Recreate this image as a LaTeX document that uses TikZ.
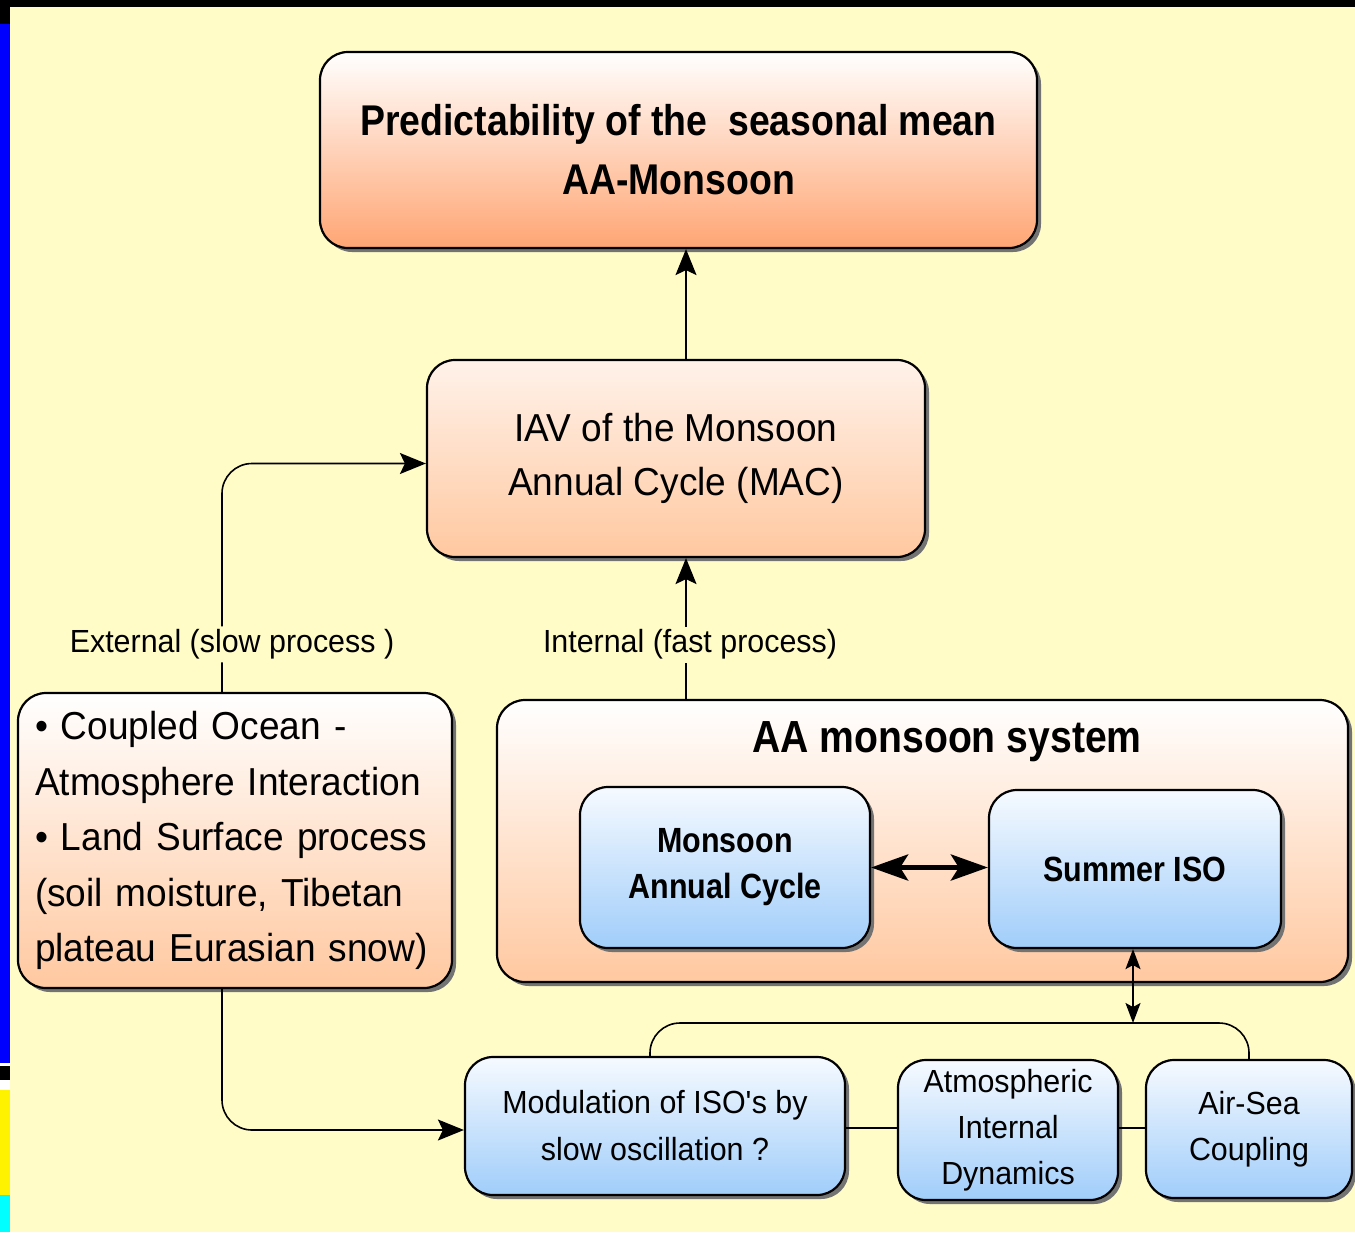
\documentclass[tikz,border=0pt]{standalone}
\usepackage{fontspec}
\setmainfont{Liberation Sans}[FakeStretch=0.95]
\newfontfamily\bfam{Liberation Sans}[FakeStretch=0.87]
\usetikzlibrary{shadows,arrows.meta}
\definecolor{bg}{RGB}{255,252,200}
\definecolor{peachD}{RGB}{255,165,115}
\definecolor{peachM}{RGB}{255,200,160}
\definecolor{peachT}{RGB}{255,242,234}
\definecolor{blueD}{RGB}{160,205,250}
\definecolor{blueL}{RGB}{246,250,255}
\definecolor{shd}{RGB}{115,115,115}
\definecolor{stripblue}{RGB}{0,0,255}
\definecolor{stripcyan}{RGB}{0,255,255}
\newcommand\myfs[2]{\fontsize{#1}{#2}\selectfont}
\begin{document}
\begin{tikzpicture}[x=1pt,y=-1pt,
  box/.style={draw=black, line width=2.2pt, rounded corners=28pt, align=center, inner sep=0pt,
    drop shadow={shadow xshift=4pt, shadow yshift=-4pt, fill=shd, opacity=1}},
  peach/.style={box, top color=#1, bottom color=peachM},
  orangebox/.style={box, top color=white, bottom color=peachD},
  bluebox/.style={box, top color=blueL, bottom color=blueD},
  conn/.style={line width=1.6pt, draw=black},
  arr/.style={conn, -{Stealth[length=26pt,width=21pt,inset=5pt]}},
  smallarr/.style={conn, {Stealth[length=20pt,width=15pt,inset=4pt]}-{Stealth[length=20pt,width=15pt,inset=4pt]}},
  bigarr/.style={line width=5pt, draw=black, {Stealth[length=37pt,width=26pt,inset=8pt]}-{Stealth[length=37pt,width=26pt,inset=8pt]}},
  lbl/.style={fill=bg, inner sep=3pt, font=\myfs{32}{40}},
]
\useasboundingbox (0,0) rectangle (1355,1232);
% background and frame bits
\fill[bg] (0,0) rectangle (1355,1232);
\fill[black] (0,0) rectangle (1355,7);
\fill[black] (0,0) rectangle (10,24);
\fill[stripblue] (0,24) rectangle (10,1063);
\fill[white] (0,1063) rectangle (10,1090);
\fill[black] (0,1066) rectangle (10,1080);
\fill[yellow] (0,1090) rectangle (10,1195);
\fill[stripcyan] (0,1195) rectangle (10,1232);

% boxes
\node[orangebox, minimum width=717pt, minimum height=196pt, font=\bfam\bfseries\myfs{43}{59}] (top) at (678.5,150)
  {Predictability of the~ seasonal mean\\AA-Monsoon};
\node[peach=peachT, minimum width=498pt, minimum height=197pt, font=\myfs{39}{54}] (iav) at (676,458.5)
  {IAV of the Monsoon\\Annual Cycle (MAC)};
\node[peach=white, minimum width=434pt, minimum height=295pt, text width=400pt, align=left, inner xsep=17pt, font=\myfs{39}{55.5}] (left) at (235,840.5)
  {\textbullet\ Coupled Ocean -\\Atmosphere Interaction\\\textbullet\ Land Surface process\\(soil moisture, Tibetan\\plateau Eurasian snow)};
\node[peach=white, minimum width=851pt, minimum height=282pt] (aa) at (922.5,841) {};
\node[font=\bfam\bfseries\myfs{45}{54}, inner sep=0pt] (aalabel) at (947,742) {AA monsoon system};
\node[bluebox, minimum width=290pt, minimum height=161pt, font=\bfam\bfseries\myfs{35}{46}] (mac) at (725,867.5)
  {Monsoon\\Annual Cycle};
\node[bluebox, minimum width=292pt, minimum height=158pt, font=\bfam\bfseries\myfs{35}{46}] (iso) at (1135,869)
  {Summer ISO};
\node[bluebox, minimum width=380pt, minimum height=138pt, font=\myfs{32}{47}] (mod) at (655,1126)
  {Modulation of ISO\textquotesingle s by\\slow oscillation ?};
\node[bluebox, minimum width=220pt, minimum height=140pt, font=\myfs{32}{46}] (atm) at (1008,1130)
  {Atmospheric\\Internal\\Dynamics};
\node[bluebox, minimum width=206pt, minimum height=138pt, font=\myfs{32}{46}] (air) at (1249,1129)
  {Air-Sea\\Coupling};

% helper coordinates
\coordinate (cx) at (686,0);
\coordinate (ex) at (222,0);
\coordinate (br) at (1133,1023);

% connectors
\draw[arr] (iav.north -| cx) -- (top.south -| cx);
\draw[arr] (aa.north -| cx) -- node[lbl, pos=0.385, xshift=4pt] (intl) {Internal (fast process)} (iav.south -| cx);
\draw[arr, rounded corners=30pt] (left.north -| ex) |- node[lbl, pos=0.104, xshift=10pt] (extl) {External (slow process )} ([yshift=-5pt]iav.west);
\draw[arr, rounded corners=30pt] (left.south -| ex) |- ([yshift=-4pt]mod.west);
\draw[bigarr] (mac.east) -- (mac.east -| iso.west);
\draw[smallarr] (iso.south -| br) -- (br);
\draw[conn, rounded corners=30pt] ([xshift=-5pt]mod.north) |- (br) -| (air.north);
\draw[conn] ([yshift=-2pt]mod.east) -- ([yshift=-2pt]mod.east -| atm.west);
\draw[conn] ([yshift=2pt]atm.east) -- ([yshift=2pt]atm.east -| air.west);
\end{tikzpicture}
\end{document}
